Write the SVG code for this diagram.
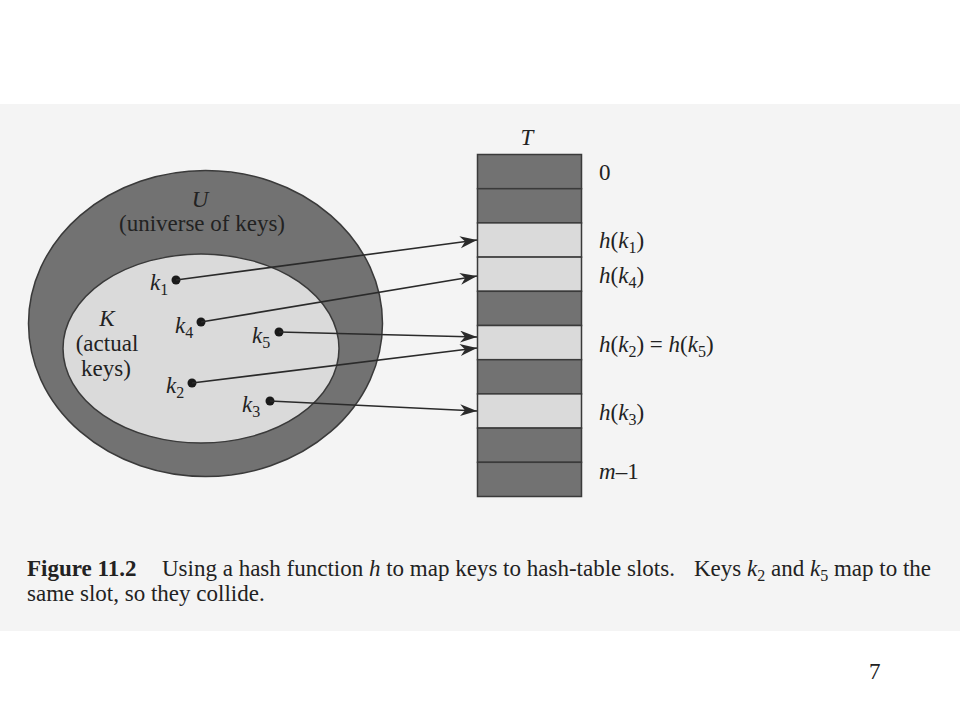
<svg xmlns="http://www.w3.org/2000/svg" width="960" height="720" viewBox="0 0 960 720">
<defs>
<style>
text{font-family:"Liberation Serif","Times New Roman",serif;fill:#222;font-size:23px}
.it{font-style:italic}
.sub{font-size:16px}
.dark{fill:#727272;stroke:#3a3a3a;stroke-width:1.5}
.light{fill:#dadada;stroke:#3a3a3a;stroke-width:1.5}
.conn{stroke:#2a2a2a;stroke-width:1.6;fill:none;marker-end:url(#ah)}
.dot{fill:#1a1a1a}
</style>
<marker id="ah" markerUnits="userSpaceOnUse" markerWidth="18" markerHeight="14" refX="17" refY="6" orient="auto">
<path d="M0,0 L17,6 L0,12 L5,6 z" fill="#2a2a2a"/>
</marker>
</defs>
<rect x="0" y="0" width="960" height="720" fill="#ffffff"/>
<rect x="0" y="104" width="960" height="527" fill="#f4f4f4"/>

<g id="universe">
<ellipse class="dark" cx="205.5" cy="323.5" rx="177" ry="153"/>
<text class="it" x="200" y="207" text-anchor="middle">U</text>
<text x="202" y="231" text-anchor="middle">(universe of keys)</text>
</g>
<g id="actual-keys">
<ellipse class="light" cx="201" cy="348.5" rx="138" ry="94.5"/>
<text class="it" x="107" y="326" text-anchor="middle">K</text>
<text x="107" y="351" text-anchor="middle">(actual</text>
<text x="106" y="376" text-anchor="middle">keys)</text>
</g>

<g id="table">
<rect class="dark" x="477.5" y="154.5" width="104" height="34.2"/>
<rect class="dark" x="477.5" y="188.7" width="104" height="34.2"/>
<rect class="light" x="477.5" y="222.9" width="104" height="34.2"/>
<rect class="light" x="477.5" y="257.1" width="104" height="34.2"/>
<rect class="dark" x="477.5" y="291.3" width="104" height="34.2"/>
<rect class="light" x="477.5" y="325.5" width="104" height="34.2"/>
<rect class="dark" x="477.5" y="359.7" width="104" height="34.2"/>
<rect class="light" x="477.5" y="393.9" width="104" height="34.2"/>
<rect class="dark" x="477.5" y="428.1" width="104" height="34.2"/>
<rect class="dark" x="477.5" y="462.3" width="104" height="34.2"/>
<text class="it" x="527" y="145" text-anchor="middle">T</text>
<text x="599" y="180">0</text>
<text x="599" y="248"><tspan class="it">h</tspan>(<tspan class="it">k</tspan><tspan class="sub" dy="5">1</tspan><tspan dy="-5">)</tspan></text>
<text x="599" y="283"><tspan class="it">h</tspan>(<tspan class="it">k</tspan><tspan class="sub" dy="5">4</tspan><tspan dy="-5">)</tspan></text>
<text x="599" y="352"><tspan class="it">h</tspan>(<tspan class="it">k</tspan><tspan class="sub" dy="5">2</tspan><tspan dy="-5">) = </tspan><tspan class="it">h</tspan>(<tspan class="it">k</tspan><tspan class="sub" dy="5">5</tspan><tspan dy="-5">)</tspan></text>
<text x="599" y="420"><tspan class="it">h</tspan>(<tspan class="it">k</tspan><tspan class="sub" dy="5">3</tspan><tspan dy="-5">)</tspan></text>
<text x="599" y="479"><tspan class="it">m</tspan>–1</text>
</g>

<g id="key-k1"><circle class="dot" cx="176" cy="280" r="4.5"/><text x="150" y="290"><tspan class="it">k</tspan><tspan class="sub" dy="5">1</tspan></text></g>
<g id="key-k4"><circle class="dot" cx="201" cy="322" r="4.5"/><text x="175" y="333"><tspan class="it">k</tspan><tspan class="sub" dy="5">4</tspan></text></g>
<g id="key-k5"><circle class="dot" cx="279" cy="332" r="4.5"/><text x="252" y="343"><tspan class="it">k</tspan><tspan class="sub" dy="5">5</tspan></text></g>
<g id="key-k2"><circle class="dot" cx="192" cy="383" r="4.5"/><text x="166" y="393"><tspan class="it">k</tspan><tspan class="sub" dy="5">2</tspan></text></g>
<g id="key-k3"><circle class="dot" cx="270" cy="401" r="4.5"/><text x="242" y="412"><tspan class="it">k</tspan><tspan class="sub" dy="5">3</tspan></text></g>

<g id="connectors">
<line class="conn" x1="176" y1="280" x2="477" y2="240"/>
<line class="conn" x1="201" y1="322" x2="477" y2="276"/>
<line class="conn" x1="279" y1="332" x2="477" y2="337"/>
<line class="conn" x1="192" y1="383" x2="477" y2="348"/>
<line class="conn" x1="270" y1="401" x2="477" y2="411"/>
</g>

<g id="caption">
<text x="27" y="576"><tspan font-weight="bold">Figure 11.2</tspan><tspan x="162">Using a hash function </tspan><tspan class="it">h</tspan><tspan> to map keys to hash-table slots.</tspan><tspan x="694">Keys </tspan><tspan class="it">k</tspan><tspan class="sub" dy="5">2</tspan><tspan dy="-5"> and </tspan><tspan class="it">k</tspan><tspan class="sub" dy="5">5</tspan><tspan dy="-5"> map to the</tspan></text>
<text x="27" y="601">same slot, so they collide.</text>
</g>
<text x="869" y="679" font-size="18">7</text>
</svg>
